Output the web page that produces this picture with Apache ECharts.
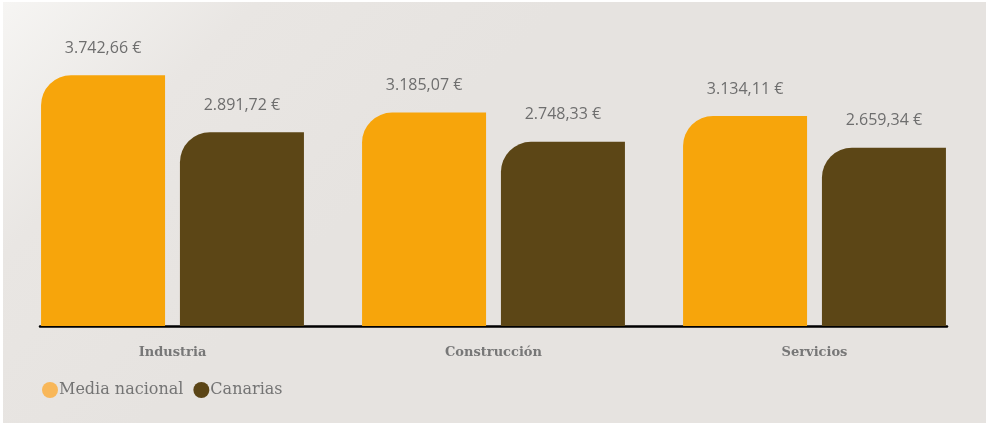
<!DOCTYPE html>
<html>
<head>
<meta charset="utf-8">
<script src="https://cdn.jsdelivr.net/npm/echarts@6/dist/echarts.min.js"></script>
<style>
html,body{margin:0;padding:0;background:#fff;}
#bg{position:absolute;left:3px;top:2px;width:983px;height:421px;background:linear-gradient(135deg,#f6f5f3 0%,#e9e6e3 18%,#e6e3e0 40%,#e6e3e0 100%);}
#chart{position:absolute;left:0;top:0;width:989px;height:426px;}
</style>
</head>
<body>
<div id="bg"></div>
<div id="chart"></div>
<script>
const categories = ['Industria', 'Construcción', 'Servicios'];
const seriesNames = ['Media nacional', 'Canarias'];
const mediaNacional = [3742.66, 3185.07, 3134.11];
const canarias = [2891.72, 2748.33, 2659.34];

function fmt(v) {
  const parts = v.toFixed(2).split('.');
  const int = parts[0].replace(/\B(?=(\d{3})+(?!\d))/g, '.');
  return int + ',' + parts[1] + ' €';
}

const chart = echarts.init(document.getElementById('chart'), null, {renderer: 'canvas'});
const labelStyle = {
  show: true, position: 'top', distance: 19,
  formatter: p => fmt(p.value),
  color: '#6e6e6e', fontFamily: '"Open Sans"', fontSize: 16
};
chart.setOption({
  animation: false,
  legend: {
    left: 37, top: 377, itemWidth: 16, itemHeight: 16, itemGap: 10,
    icon: 'circle',
    textStyle: {fontFamily: '"DejaVu Serif"', fontSize: 16, color: '#747474', padding: [0,0,0,-4]},
    data: [
      {name: seriesNames[0], itemStyle: {color: '#f8b759'}},
      {name: seriesNames[1], itemStyle: {color: '#5b4516'}}
    ]
  },
  grid: [
    {left: 12, right: 14, top: 58, bottom: 100},
    {left: 40, right: 42, top: 58, bottom: 100}
  ],
  xAxis: [
    {
      type: 'category', data: categories, gridIndex: 0,
      axisLine: {show: false}, axisTick: {show: false},
      axisLabel: {margin: 20, color: '#777', fontFamily: '"DejaVu Serif"', fontWeight: 'bold', fontSize: 13}
    },
    {
      type: 'value', gridIndex: 1, min: 0, max: 1,
      axisLine: {show: true, onZero: false, lineStyle: {color: '#000', width: 2.5}},
      axisTick: {show: false}, axisLabel: {show: false}, splitLine: {show: false}
    }
  ],
  yAxis: [
    {type: 'value', gridIndex: 0, min: 0, max: 4000, show: false},
    {type: 'value', gridIndex: 1, min: 0, max: 4000, show: false}
  ],
  series: [
    {
      name: seriesNames[0], type: 'bar', data: mediaNacional, barWidth: 124, barGap: '12%',
      itemStyle: {color: '#f7a50b', borderRadius: [30, 0, 0, 0]},
      label: labelStyle
    },
    {
      name: seriesNames[1], type: 'bar', data: canarias, barWidth: 124, barGap: '12%',
      itemStyle: {color: '#5c4616', borderRadius: [30, 0, 0, 0]},
      label: labelStyle
    }
  ]
});
</script>
</body>
</html>
